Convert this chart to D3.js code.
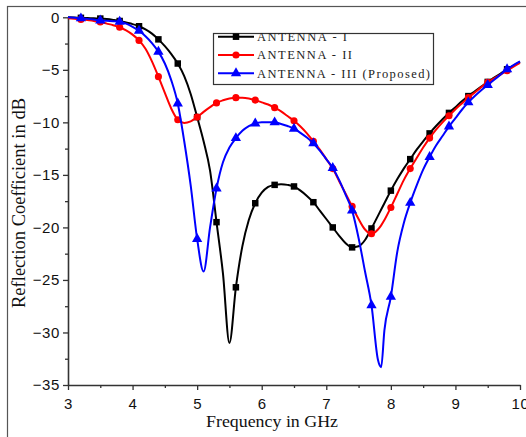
<!DOCTYPE html>
<html><head><meta charset="utf-8">
<script src="https://cdn.jsdelivr.net/npm/d3@7"></script>
<style>
html,body{margin:0;padding:0;background:#fff;}
svg{display:block;}
</style></head>
<body><svg id="chart" width="526" height="437"></svg>
<script>
// Frequency samples (GHz)
const freq = [3.0,3.1,3.2,3.3,3.4,3.5,3.6,3.7,3.8,3.9,4.0,4.1,4.2,4.3,4.4,4.5,4.6,4.7,4.8,4.9,
  5.0,5.1,5.2,5.3,5.4,5.5,5.6,5.7,5.8,5.9,6.0,6.1,6.2,6.3,6.4,6.5,6.6,6.7,6.8,6.9,
  7.0,7.1,7.2,7.3,7.4,7.5,7.6,7.7,7.8,7.85,7.9,8.0,8.1,8.2,8.3,8.4,8.5,8.6,8.7,8.8,8.9,
  9.0,9.1,9.2,9.3,9.4,9.5,9.6,9.7,9.8,9.9,10.0];

// Reflection coefficient (dB)
const s11AntennaI = [0,-0.02,-0.05,-0.07,-0.1,-0.12,-0.17,-0.25,-0.35,-0.5,-0.65,-0.85,-1.15,-1.55,-2.1,-2.75,-3.5,-4.4,-5.6,-7.3,
  -9.5,-11.8,-14.6,-19.5,-24.4,-31.0,-25.7,-21.8,-19.3,-17.7,-16.7,-16.15,-15.95,-15.9,-15.95,-16.1,-16.5,-17.0,-17.6,-18.4,
  -19.2,-20.0,-20.8,-21.5,-21.9,-21.8,-21.2,-20.1,-18.9,-18.3,-17.7,-16.5,-15.4,-14.4,-13.5,-12.6,-11.8,-11.05,-10.35,-9.7,-9.1,
  -8.55,-8.0,-7.5,-7.05,-6.6,-6.15,-5.75,-5.35,-4.95,-4.6,-4.25];

const s11AntennaII = [-0.1,-0.15,-0.2,-0.25,-0.35,-0.45,-0.6,-0.75,-0.95,-1.25,-1.65,-2.2,-3.0,-4.2,-5.65,-7.2,-8.7,-9.75,-10.05,-9.9,
  -9.5,-9.0,-8.55,-8.15,-7.9,-7.72,-7.65,-7.65,-7.72,-7.88,-8.1,-8.3,-8.6,-8.95,-9.4,-9.85,-10.4,-11.05,-11.8,-12.6,
  -13.5,-14.4,-15.6,-16.8,-18.0,-19.2,-20.2,-20.6,-20.2,-19.8,-19.3,-18.1,-16.8,-15.5,-14.4,-13.4,-12.4,-11.5,-10.7,-10.0,-9.37,
  -8.75,-8.2,-7.65,-7.15,-6.65,-6.2,-5.8,-5.45,-5.08,-4.7,-4.35];

const s11AntennaIII = [0,-0.05,-0.1,-0.15,-0.22,-0.3,-0.33,-0.37,-0.42,-0.6,-0.9,-1.28,-1.8,-2.45,-3.27,-4.4,-6.0,-8.2,-11.8,-16.0,
  -21.1,-24.2,-20.0,-16.3,-13.8,-12.4,-11.5,-10.8,-10.35,-10.1,-10.0,-9.98,-10.0,-10.15,-10.35,-10.6,-11.0,-11.45,-12.0,-12.7,
  -13.5,-14.35,-15.5,-16.9,-18.4,-21.0,-24.2,-27.4,-32.6,-33.3,-29.8,-26.6,-22.3,-19.6,-17.66,-16.0,-14.5,-13.3,-12.2,-11.3,-10.4,
  -9.6,-8.8,-8.1,-7.5,-6.95,-6.45,-5.95,-5.45,-4.95,-4.55,-4.2];

const markerFreq = [3.2,3.5,3.8,4.1,4.4,4.7,5.0,5.3,5.6,5.9,6.2,6.5,6.8,7.1,7.4,7.7,8.0,8.3,8.6,8.9,9.2,9.5,9.8];
const seriesNames = ["ANTENNA - I","ANTENNA - II","ANTENNA - III (Proposed)"];
const xTickValues = [3,4,5,6,7,8,9,10];
const xMinorTicks = [3.5,4.5,5.5,6.5,7.5,8.5,9.5];
const yTickValues = [0,-5,-10,-15,-20,-25,-30,-35];
const yMinorTicks = [-2.5,-7.5,-12.5,-17.5,-22.5,-27.5,-32.5];
const xTitle = "Frequency in GHz";
const yTitle = "Reflection Coefficient in dB";

const svg = d3.select("#chart");
const x = d3.scaleLinear().domain([3, 10]).range([68, 520]);
const y = d3.scaleLinear().domain([-35, 0]).range([385, 17.3]);

// outer frame
svg.append("rect").attr("x", 7.5).attr("y", 6.5).attr("width", 700).attr("height", 700)
  .attr("fill", "none").attr("stroke", "#555").attr("stroke-width", 1.2);

const axisColor = "#333";
function styleAxis(g) {
  g.select(".domain").attr("stroke", axisColor).attr("stroke-width", 1.6);
  g.selectAll(".tick line").attr("stroke", axisColor).attr("stroke-width", 1.3);
  g.selectAll(".tick text").attr("fill", "#111").style("font-family", "'Liberation Sans', Arial, sans-serif")
    .style("font-size", "15px").style("letter-spacing", "0.6px");
}

// X axis
const gx = svg.append("g").attr("transform", "translate(0,385)");
gx.call(d3.axisBottom(x).tickValues(xTickValues).tickSize(5).tickSizeOuter(0).tickPadding(8).tickFormat(d3.format("d")));
styleAxis(gx);
const gxm = svg.append("g").attr("transform", "translate(0,385)");
gxm.call(d3.axisBottom(x).tickValues(xMinorTicks).tickSize(3).tickFormat(""));
gxm.select(".domain").remove();
styleAxis(gxm);

// Y axis
const gy = svg.append("g").attr("transform", "translate(68,0)");
gy.call(d3.axisLeft(y).tickValues(yTickValues).tickSize(5).tickSizeOuter(0).tickPadding(3).tickFormat(d3.format("d")));
styleAxis(gy);
const gym = svg.append("g").attr("transform", "translate(68,0)");
gym.call(d3.axisLeft(y).tickValues(yMinorTicks).tickSize(3).tickFormat(""));
gym.select(".domain").remove();
styleAxis(gym);

// titles
svg.append("text").attr("x", 272).attr("y", 427).attr("text-anchor", "middle")
  .attr("textLength", 132).attr("lengthAdjust", "spacingAndGlyphs")
  .style("font-family", "'Liberation Serif', 'Times New Roman', serif").style("font-size", "17px")
  .attr("fill", "#111").text(xTitle);
svg.append("text").attr("transform", "translate(25,203) rotate(-90)").attr("text-anchor", "middle")
  .attr("textLength", 210).attr("lengthAdjust", "spacingAndGlyphs")
  .style("font-family", "'Liberation Serif', 'Times New Roman', serif").style("font-size", "18px")
  .attr("fill", "#111").text(yTitle);

// series
const seriesValues = [s11AntennaI, s11AntennaII, s11AntennaIII];
const styles = [
  {color: "#000000", symbol: d3.symbolSquare, size: 42},
  {color: "#ff0000", symbol: d3.symbolCircle, size: 40},
  {color: "#0000ff", symbol: d3.symbolTriangle, size: 46}
];
const line = d3.line().x(d => x(d.f)).y(d => y(d.v)).curve(d3.curveMonotoneX);
const isMarker = f => markerFreq.some(m => Math.abs(m - f) < 1e-6);

seriesValues.forEach((vals, i) => {
  const pts = freq.map((f, k) => ({f, v: vals[k]}));
  const st = styles[i];
  const g = svg.append("g");
  g.append("path").datum(pts).attr("d", line).attr("fill", "none")
    .attr("stroke", st.color).attr("stroke-width", 2).attr("stroke-linejoin", "round");
  g.selectAll("path.m").data(pts.filter(p => isMarker(p.f))).join("path").attr("class", "m")
    .attr("transform", p => `translate(${x(p.f)},${y(p.v)})`)
    .attr("d", d3.symbol().type(st.symbol).size(st.size)).attr("fill", st.color);
});

// legend
const lg = svg.append("g");
lg.append("rect").attr("x", 213.5).attr("y", 33.5).attr("width", 220).attr("height", 51)
  .attr("fill", "#fff").attr("stroke", "#333").attr("stroke-width", 1.2);
const legendRowsY = [36.7, 55, 73.3];
const legendWidths = [90, 95, 173];
seriesNames.forEach((name, i) => {
  const st = styles[i];
  const yy = legendRowsY[i];
  lg.append("line").attr("x1", 218).attr("x2", 254).attr("y1", yy).attr("y2", yy)
    .attr("stroke", st.color).attr("stroke-width", 2);
  lg.append("path").attr("transform", `translate(236,${yy})`)
    .attr("d", d3.symbol().type(st.symbol).size(st.size)).attr("fill", st.color);
  lg.append("text").attr("x", 257).attr("y", yy + 4.3)
    .attr("textLength", legendWidths[i]).attr("lengthAdjust", "spacing")
    .style("font-family", "'Liberation Serif', 'Times New Roman', serif").style("font-size", "12.5px")
    .attr("fill", "#222").text(name);
});
</script>
</body></html>
